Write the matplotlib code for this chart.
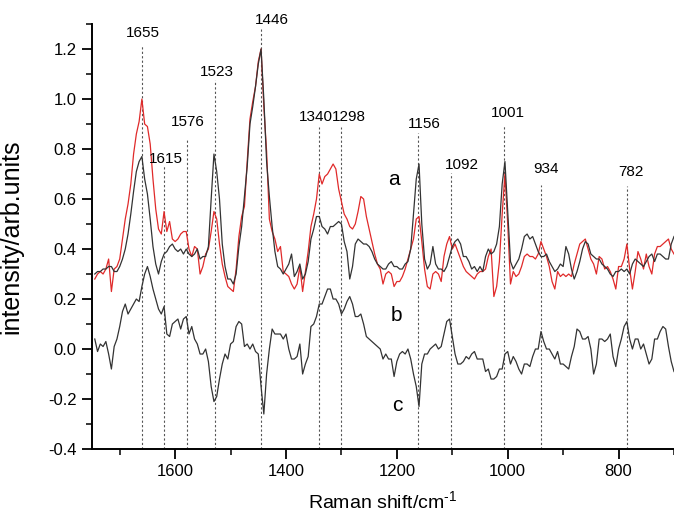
import numpy as np
import matplotlib
matplotlib.use("Agg")
import matplotlib.pyplot as plt
from matplotlib.ticker import MultipleLocator, FormatStrFormatter

plt.rcParams['font.family'] = ['Liberation Sans', 'DejaVu Sans']
plt.rcParams['axes.unicode_minus'] = False
plt.rcParams['mathtext.fontset'] = 'custom'
plt.rcParams['mathtext.rm'] = 'Liberation Sans'
plt.rcParams['mathtext.it'] = 'Liberation Sans:italic'
plt.rcParams['mathtext.bf'] = 'Liberation Sans:bold'
plt.rcParams['mathtext.default'] = 'regular'

# Raman shift grid (cm^-1), 1745 -> 700
shift = list(range(1745, 699, -5))

# spectrum a (red)
spec_red = [
    0.28, 0.30, 0.31, 0.30, 0.32, 0.36, 0.23, 0.32, 0.33, 0.36,
    0.44, 0.52, 0.58, 0.66, 0.78, 0.86, 0.91, 1.00, 0.90, 0.89,
    0.82, 0.68, 0.56, 0.48, 0.46, 0.55, 0.47, 0.51, 0.44, 0.43,
    0.44, 0.46, 0.47, 0.47, 0.40, 0.37, 0.41, 0.40, 0.30, 0.33,
    0.38, 0.40, 0.47, 0.55, 0.52, 0.42, 0.34, 0.29, 0.25, 0.24,
    0.23, 0.32, 0.45, 0.53, 0.57, 0.75, 0.92, 0.99, 1.05, 1.15,
    1.20, 0.97, 0.79, 0.52, 0.47, 0.44, 0.39, 0.41, 0.31, 0.30,
    0.29, 0.26, 0.24, 0.26, 0.33, 0.23, 0.31, 0.39, 0.49, 0.54,
    0.60, 0.70, 0.66, 0.69, 0.70, 0.72, 0.74, 0.72, 0.64, 0.59,
    0.54, 0.52, 0.49, 0.48, 0.50, 0.55, 0.61, 0.60, 0.53, 0.48,
    0.43, 0.38, 0.34, 0.32, 0.26, 0.30, 0.31, 0.30, 0.25, 0.27,
    0.27, 0.29, 0.32, 0.36, 0.40, 0.44, 0.52, 0.53, 0.43, 0.32,
    0.25, 0.24, 0.30, 0.31, 0.30, 0.27, 0.37, 0.42, 0.45, 0.40,
    0.42, 0.39, 0.36, 0.33, 0.31, 0.30, 0.29, 0.28, 0.30, 0.31,
    0.31, 0.32, 0.37, 0.40, 0.21, 0.25, 0.35, 0.54, 0.70, 0.50,
    0.26, 0.31, 0.29, 0.30, 0.33, 0.37, 0.38, 0.37, 0.37, 0.36,
    0.38, 0.43, 0.40, 0.37, 0.33, 0.27, 0.24, 0.31, 0.29, 0.30,
    0.29, 0.30, 0.29, 0.34, 0.38, 0.42, 0.43, 0.44, 0.40, 0.36,
    0.34, 0.30, 0.37, 0.36, 0.32, 0.33, 0.31, 0.28, 0.24, 0.33,
    0.33, 0.36, 0.42, 0.32, 0.24, 0.31, 0.39, 0.36, 0.32, 0.38,
    0.33, 0.30, 0.38, 0.41, 0.41, 0.42, 0.43, 0.44, 0.40, 0.38,
]

# spectrum b (black)
spec_black = [
    0.30, 0.31, 0.31, 0.32, 0.32, 0.33, 0.33, 0.31, 0.31, 0.33,
    0.36, 0.40, 0.46, 0.54, 0.63, 0.71, 0.75, 0.77, 0.68, 0.62,
    0.52, 0.41, 0.34, 0.30, 0.35, 0.38, 0.39, 0.41, 0.42, 0.40,
    0.39, 0.40, 0.38, 0.40, 0.38, 0.37, 0.38, 0.40, 0.36, 0.37,
    0.37, 0.41, 0.60, 0.78, 0.71, 0.60, 0.42, 0.33, 0.28, 0.28,
    0.26, 0.30, 0.41, 0.49, 0.61, 0.73, 0.90, 0.97, 1.05, 1.14,
    1.20, 1.00, 0.75, 0.61, 0.49, 0.39, 0.33, 0.32, 0.30, 0.32,
    0.34, 0.38, 0.29, 0.31, 0.34, 0.28, 0.30, 0.35, 0.44, 0.48,
    0.53, 0.53, 0.49, 0.48, 0.46, 0.49, 0.49, 0.50, 0.51, 0.50,
    0.43, 0.39, 0.28, 0.33, 0.42, 0.44, 0.43, 0.42, 0.42, 0.41,
    0.39, 0.36, 0.34, 0.33, 0.32, 0.32, 0.34, 0.35, 0.33, 0.33,
    0.32, 0.32, 0.34, 0.35, 0.40, 0.54, 0.68, 0.74, 0.50, 0.36,
    0.32, 0.34, 0.41, 0.34, 0.32, 0.32, 0.31, 0.33, 0.37, 0.41,
    0.43, 0.44, 0.42, 0.37, 0.37, 0.35, 0.32, 0.33, 0.31, 0.33,
    0.31, 0.37, 0.40, 0.38, 0.39, 0.42, 0.49, 0.66, 0.75, 0.55,
    0.35, 0.32, 0.34, 0.36, 0.40, 0.45, 0.46, 0.44, 0.45, 0.42,
    0.39, 0.37, 0.37, 0.38, 0.35, 0.33, 0.31, 0.32, 0.34, 0.33,
    0.41, 0.38, 0.32, 0.28, 0.31, 0.35, 0.40, 0.43, 0.42, 0.38,
    0.37, 0.36, 0.36, 0.34, 0.33, 0.32, 0.30, 0.29, 0.31, 0.31,
    0.32, 0.31, 0.32, 0.30, 0.34, 0.36, 0.35, 0.34, 0.33, 0.35,
    0.37, 0.38, 0.35, 0.38, 0.38, 0.37, 0.36, 0.36, 0.42, 0.45,
]

# difference spectrum c
spec_diff = [
    0.04, -0.01, 0.02, 0.01, 0.03, -0.02, -0.08, 0.01, 0.04, 0.09,
    0.15, 0.18, 0.14, 0.16, 0.18, 0.20, 0.19, 0.25, 0.30, 0.33,
    0.29, 0.24, 0.20, 0.16, 0.14, 0.17, 0.06, 0.05, 0.10, 0.11,
    0.12, 0.08, 0.12, 0.13, 0.06, 0.09, 0.04, 0.02, -0.02, -0.02,
    0.00, -0.05, -0.15, -0.21, -0.19, -0.12, -0.06, -0.02, -0.04, 0.02,
    0.03, 0.09, 0.11, 0.10, 0.01, 0.02, 0.00, 0.02, -0.01, -0.02,
    -0.15, -0.26, -0.10, 0.00, 0.08, 0.06, 0.06, 0.06, 0.04, 0.06,
    0.00, -0.04, -0.04, -0.03, 0.02, -0.10, -0.06, -0.03, 0.09, 0.10,
    0.13, 0.18, 0.18, 0.21, 0.24, 0.24, 0.20, 0.20, 0.18, 0.14,
    0.16, 0.19, 0.21, 0.18, 0.13, 0.13, 0.14, 0.10, 0.05, 0.04,
    0.03, 0.02, 0.01, 0.00, -0.04, -0.02, -0.04, -0.04, -0.11, -0.05,
    -0.02, -0.01, -0.02, 0.00, -0.04, -0.10, -0.15, -0.23, -0.06, -0.02,
    -0.02, 0.00, 0.01, 0.02, 0.00, 0.01, 0.06, 0.11, 0.12, 0.05,
    -0.02, -0.06, -0.06, -0.05, -0.03, -0.04, -0.02, -0.01, -0.04, -0.04,
    -0.04, -0.09, -0.08, -0.12, -0.12, -0.11, -0.08, -0.08, -0.02, -0.01,
    -0.06, -0.03, -0.05, -0.08, -0.10, -0.06, -0.06, -0.07, -0.03, 0.00,
    0.00, 0.07, 0.03, 0.00, 0.00, -0.02, -0.04, -0.01, -0.06, -0.06,
    -0.07, -0.08, -0.03, 0.01, 0.08, 0.07, 0.04, 0.04, 0.05, 0.00,
    -0.10, -0.06, 0.04, 0.04, 0.03, 0.04, 0.06, -0.03, -0.07, 0.00,
    0.04, 0.09, 0.11, 0.04, 0.00, 0.04, 0.04, 0.00, 0.02, -0.02,
    -0.06, -0.04, 0.04, 0.04, 0.07, 0.09, 0.08, 0.01, -0.05, -0.09,
]

# peak annotations
peak_labels = ['1655', '1615', '1576', '1523', '1446', '1340', '1298',
               '1156', '1092', '1001', '934', '782']
peak_line_x = [1659, 1620, 1579, 1528, 1446, 1341, 1300, 1161, 1102, 1006, 940, 784]
peak_line_top = [1.216, 0.736, 0.836, 1.076, 1.283, 0.889, 0.889, 0.865, 0.703, 0.892, 0.656, 0.652]
peak_label_x = [1659, 1617, 1578, 1524, 1426, 1347, 1287, 1151, 1082, 1000, 931, 777]
peak_label_y = [1.263, 0.759, 0.909, 1.109, 1.316, 0.929, 0.929, 0.900, 0.736, 0.945, 0.719, 0.709]

curve_names = ['a', 'b', 'c']
curve_name_x = [1205, 1200, 1200]
curve_name_y = [0.68, 0.135, -0.225]

fig = plt.figure(figsize=(6.74, 5.17), dpi=100)
ax = fig.add_axes([0.1365, 0.1315, 0.8635, 0.822])

ax.vlines(peak_line_x, -0.4, peak_line_top, colors='#555555',
          linestyles=(0, (2, 2)), linewidth=0.8, zorder=1)

ax.plot(shift, spec_red, color='#e02a2a', linewidth=0.9, zorder=2)
ax.plot(shift, spec_black, color='#333333', linewidth=0.9, zorder=3)
ax.plot(shift, spec_diff, color='#333333', linewidth=0.9, zorder=3)

for lab, lx, ly in zip(peak_labels, peak_label_x, peak_label_y):
    ax.text(lx, ly, lab, ha='center', va='center', fontsize=11, color='black', clip_on=False)

for n, nx, ny in zip(curve_names, curve_name_x, curve_name_y):
    ax.text(nx, ny, n, ha='center', va='center', fontsize=15, color='black')

ax.set_xlim(1750, 700)
ax.set_ylim(-0.4, 1.3)
ax.xaxis.set_major_locator(MultipleLocator(200))
ax.xaxis.set_minor_locator(MultipleLocator(100))
ax.yaxis.set_major_locator(MultipleLocator(0.2))
ax.yaxis.set_minor_locator(MultipleLocator(0.1))
ax.yaxis.set_major_formatter(FormatStrFormatter('%.1f'))

for s in ['top', 'right']:
    ax.spines[s].set_visible(False)
for s in ['left', 'bottom']:
    ax.spines[s].set_linewidth(1.4)

ax.tick_params(which='major', direction='out', length=7, width=1.3, labelsize=12, pad=4)
ax.tick_params(which='minor', direction='out', length=4, width=1.1)

ax.set_xlabel('Raman shift/cm$^{\u2010 1}$', fontsize=14, labelpad=8)
ax.set_ylabel('intensity/arb.units', fontsize=18)
ax.yaxis.set_label_coords(-0.118, 0.5)

fig.savefig('out.png', dpi=100)
